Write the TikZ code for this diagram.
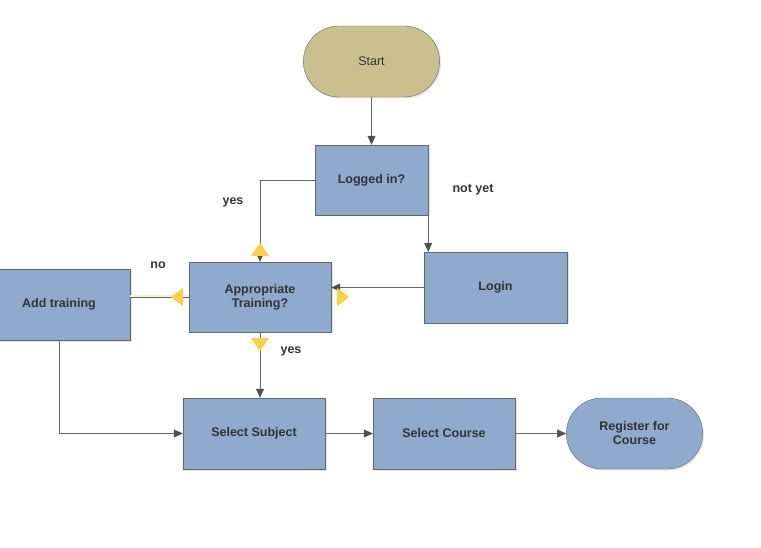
\documentclass[tikz,border=0pt]{standalone}
\usepackage{fontspec}
\setmainfont{Liberation Sans}
\usetikzlibrary{arrows.meta,shapes.misc,shadows,calc}
\definecolor{boxblue}{HTML}{8FAACC}
\definecolor{startsand}{HTML}{CCBF8E}
\definecolor{edgegray}{HTML}{666666}
\definecolor{tipgray}{HTML}{505050}
\definecolor{textgray}{HTML}{333333}
\definecolor{handle}{HTML}{FFD040}

\begin{document}
\begin{tikzpicture}[x=1pt, y=-1pt,
    every node/.style={font=\fontsize{12.5}{14}\selectfont\bfseries, text=textgray},
    stepbox/.style={rectangle, draw=edgegray, fill=boxblue, minimum width=142pt, minimum height=70pt,
        align=center, drop shadow={opacity=0.2, shadow xshift=1.5pt, shadow yshift=-1.5pt}},
    termbox/.style={rounded rectangle, draw=edgegray, minimum width=143pt, minimum height=71pt,
        align=center, drop shadow={opacity=0.2, shadow xshift=1.5pt, shadow yshift=-1.5pt}},
    flow/.style={draw=edgegray, semithick, -{Triangle[length=9pt, width=8pt, color=tipgray]}},
    tip/.style={fill=handle, draw=none}]
    \useasboundingbox (0,0) rectangle (761,548);

    % nodes
    \node[termbox, fill=startsand, font=\fontsize{12.5}{14}\selectfont] (start) at (371.5, 61.5) {Start};
    \node[stepbox, minimum width=113pt] (logged) at (371.5, 180) {Logged in?};
    \node[stepbox, minimum width=143pt, minimum height=71pt] (login) at (495.5, 287.5) {Login};
    \node[stepbox] (appr) at (260, 297) {Appropriate\\Training?};
    \node[stepbox, minimum height=71pt] (add) at (59, 304.5) {Add training};
    \node[stepbox, minimum height=71pt] (subject) at (254, 433.5) {Select Subject};
    \node[stepbox, minimum height=71pt] (course) at (444, 433.5) {Select Course};
    \node[termbox, fill=boxblue] (register) at (634.5, 433.5) {Register for\\Course};

    % labels
    \node (yesup) at (233, 202) {yes};
    \node (notyet) at (473, 190) {not yet};
    \node (no) at (158, 265) {no};
    \node (yesdown) at (291, 351) {yes};

    % connectors
    \draw[flow] (start) -- (logged);
    \draw[flow] (logged.west) -| (appr.north);
    \draw[edgegray, semithick] (logged.south east) -- ++(0,-18);
    \draw[flow] (logged.south east) -- (logged.south east |- login.north);
    \draw[flow] (login.west) -- (login.west -| appr.east);
    \draw[line width=3pt, handle!25] (appr.west) -- (appr.west -| add.east);
    \draw[edgegray, semithick] (appr.west) -- (appr.west -| add.east);
    \draw[flow] (appr.south) -- (appr.south |- subject.north);
    \draw[flow] (add.south) |- (subject.west);
    \draw[flow] (subject) -- (course);
    \draw[flow] (course) -- (register);

    % connection handles
    \fill[tip] ($(appr.north)+(-9,-6)$) -- ($(appr.north)+(9,-6)$) -- ($(appr.north)+(0,-19)$) -- cycle;
    \fill[tip] ($(appr.south)+(-9,6)$) -- ($(appr.south)+(9,6)$) -- ($(appr.south)+(0,19)$) -- cycle;
    \fill[tip] ($(appr.west)+(-6,-9)$) -- ($(appr.west)+(-6,9)$) -- ($(appr.west)+(-18,0)$) -- cycle;
    \fill[tip] ($(appr.east)+(6,-9)$) -- ($(appr.east)+(6,9)$) -- ($(appr.east)+(18,0)$) -- cycle;
\end{tikzpicture}
\end{document}
